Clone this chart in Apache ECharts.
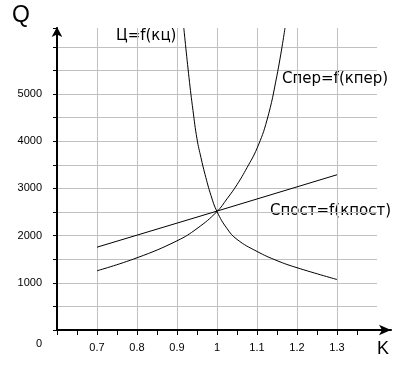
<!DOCTYPE html>
<html><head><meta charset="utf-8">
<script src="https://cdn.jsdelivr.net/npm/echarts@6/dist/echarts.min.js"></script>
<style>html,body{margin:0;padding:0;background:#fff}#c{width:413px;height:365px}</style>
</head><body><div id="c"></div>
<script>
// Спост = f(кпост)
const postK = [0.7, 1.0, 1.3];
const postQ = [1755, 2520, 3290];
// Спер = f(кпер)
const perK = [0.7, 0.8, 0.9, 0.95, 1.0, 1.025, 1.05, 1.075, 1.1, 1.125, 1.15, 1.17];
const perQ = [1255, 1530, 1890, 2150, 2510, 2780, 3080, 3440, 3850, 4450, 5400, 6400];
// Ц = f(кц)
const tsK = [0.917, 0.93, 0.94, 0.95, 0.96, 0.97, 0.985, 1.0, 1.025, 1.05, 1.1, 1.15, 1.2, 1.3];
const tsQ = [6400, 5350, 4650, 4050, 3650, 3300, 2850, 2510, 2150, 1920, 1665, 1470, 1320, 1070];

const xLabels = ['0.7', '0.8', '0.9', '1', '1.1', '1.2', '1.3'];
const yLabels = ['1000', '2000', '3000', '4000', '5000'];
const curveNames = ['Ц=f(кц)', 'Спер=f(кпер)', 'Спост=f(кпост)'];
const axisNames = ['Q', 'K'];

const pairs = (k, q) => k.map((v, i) => [v, q[i]]);
const lblFont = 'Liberation Sans, Arial, sans-serif';

const chart = echarts.init(document.getElementById('c'), null, {renderer: 'canvas'});
chart.setOption({
  backgroundColor: '#fff',
  animation: false,
  grid: [
    {left: 57, top: 28, width: 320, height: 302},
    {left: 57, top: 28, width: 334, height: 302},
    {left: 57, top: 28, width: 300, height: 302}
  ],
  xAxis: [
    {
      gridIndex: 0, type: 'value', min: 0.6, max: 1.4, interval: 0.1,
      axisLine: {show: false},
      axisTick: {show: false},
      axisLabel: {
        margin: 12, fontSize: 11, color: '#000', fontFamily: lblFont,
        formatter: v => { const s = String(+v.toFixed(2)); return xLabels.includes(s) ? s : ''; }
      },
      splitLine: {show: true, showMinLine: false, showMaxLine: false, lineStyle: {color: '#c0c0c0', width: 1}}
    },
    {
      gridIndex: 1, type: 'value', min: 0.6, max: 1.435,
      axisLine: {show: true, lineStyle: {color: '#000', width: 2}, symbol: ['none', 'arrow'], symbolSize: [8, 12]},
      axisTick: {show: false}, axisLabel: {show: false}, splitLine: {show: false}
    },
    {
      gridIndex: 2, type: 'value', min: 0.6, max: 1.35, interval: 0.05,
      axisLine: {show: false},
      axisTick: {show: true, length: 5, lineStyle: {color: '#000', width: 1}},
      axisLabel: {show: false}, splitLine: {show: false}
    }
  ],
  yAxis: [
    {
      gridIndex: 0, type: 'value', min: 0, max: 6400, interval: 500,
      axisLine: {show: true, lineStyle: {color: '#000', width: 2}, symbol: ['none', 'arrow'], symbolSize: [8, 10], symbolOffset: [0, 1]},
      axisTick: {show: true, length: 4, lineStyle: {color: '#000', width: 1}},
      axisLabel: {
        margin: 15, fontSize: 11, color: '#000', fontFamily: lblFont,
        formatter: v => v === 0 ? '{z|0}' : (yLabels.includes(String(v)) ? String(v) : ''),
        rich: {z: {fontSize: 11, color: '#000', fontFamily: lblFont, padding: [28, 0, 0, 0]}}
      },
      splitLine: {show: true, showMinLine: false, showMaxLine: false, lineStyle: {color: '#c0c0c0', width: 1}}
    },
    {gridIndex: 1, type: 'value', min: 0, max: 6400, show: false},
    {gridIndex: 2, type: 'value', min: 0, max: 6400, show: false}
  ],
  series: [
    {type: 'line', xAxisIndex: 0, yAxisIndex: 0, data: pairs(tsK, tsQ), smooth: 0.45, showSymbol: false, lineStyle: {color: '#000', width: 1}},
    {type: 'line', xAxisIndex: 0, yAxisIndex: 0, data: pairs(perK, perQ), smooth: 0.45, showSymbol: false, lineStyle: {color: '#000', width: 1}},
    {type: 'line', xAxisIndex: 0, yAxisIndex: 0, data: pairs(postK, postQ), smooth: false, showSymbol: false, lineStyle: {color: '#000', width: 1}}
  ],
  graphic: [
    {type: 'text', left: 116, top: 29, style: {text: curveNames[0], font: '15px "DejaVu Sans"', fill: '#000'}},
    {type: 'text', left: 282, top: 72, style: {text: curveNames[1], font: '15px "DejaVu Sans"', fill: '#000'}},
    {type: 'text', left: 270, top: 204, style: {text: curveNames[2], font: '15px "DejaVu Sans"', fill: '#000'}},
    {type: 'text', left: 12, top: 4, style: {text: axisNames[0], font: '23px "Liberation Sans"', fill: '#000'}},
    {type: 'text', left: 377, top: 340, style: {text: axisNames[1], font: '18px "Liberation Sans"', fill: '#000'}}
  ]
});
</script></body></html>
